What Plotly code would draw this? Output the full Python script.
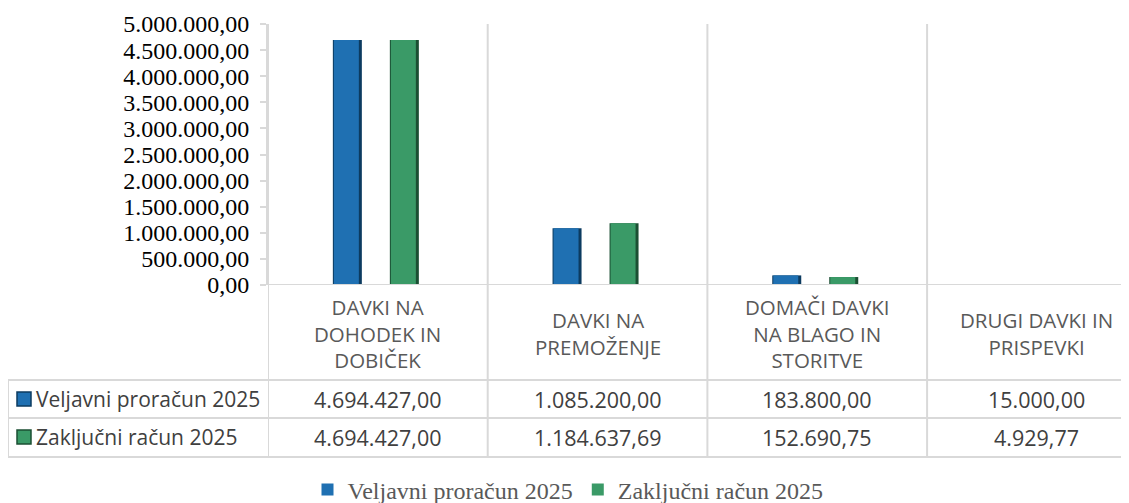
import plotly.graph_objects as go

categories = ["DAVKI NA DOHODEK IN DOBIČEK", "DAVKI NA PREMOŽENJE",
              "DOMAČI DAVKI NA BLAGO IN STORITVE", "DRUGI DAVKI IN PRISPEVKI"]
header_labels = ["DAVKI NA<br>DOHODEK IN<br>DOBIČEK", "DAVKI NA<br>PREMOŽENJE",
                 "DOMAČI DAVKI<br>NA BLAGO IN<br>STORITVE", "DRUGI DAVKI IN<br>PRISPEVKI"]
series_names = ["Veljavni proračun 2025", "Zaključni račun 2025"]
veljavni = [4694427.00, 1085200.00, 183800.00, 15000.00]
zakljucni = [4694427.00, 1184637.69, 152690.75, 4929.77]

blue = "#1f70b2"
blue_dark = "#0c3b60"
green = "#3a9a67"
green_dark = "#1b4f33"
grid = "#d9d9d9"

# the page body has an 8px margin, so work in page pixels and shift
OFF = 8
W, H = 1129 - OFF, 503 - OFF
L, T, B = 268, 24, 285  # plot area in page pixels
PLOT_W, PLOT_H = W - (L - OFF), B - T
CAT = 219.7


def px_x(x):
    return (x - L) / PLOT_W


def px_y(y):
    return (B - y) / PLOT_H


def fmt(v):
    s = f"{v:,.2f}"
    return s.replace(",", "X").replace(".", ",").replace("X", ".")


idx = list(range(len(categories)))
bw = 29 / CAT
edge = 4 / CAT

fig = go.Figure()
for name, vals, col, dark, off in [
    (series_names[0], veljavni, blue, blue_dark, -45 / CAT),
    (series_names[1], zakljucni, green, green_dark, 12 / CAT),
]:
    fig.add_trace(go.Bar(name=name, x=idx, y=vals, offset=off, width=bw, showlegend=False,
                         marker=dict(color=dark, line=dict(width=0))))
    fig.add_trace(go.Bar(name=name, x=idx, y=vals, offset=off + 1 / CAT, width=bw - edge,
                         marker=dict(color=col, line=dict(width=0)), hoverinfo="skip"))

shapes = []
# vertical lines (category boundaries), through plot and table
for b in [-0.5, 0.5, 1.5, 2.5]:
    shapes.append(dict(type="line", xref="x", yref="paper", x0=b, x1=b,
                       y0=1, y1=px_y(457), line=dict(color=grid, width=2)))
# horizontal table lines
for yy in [380, 418, 457]:
    shapes.append(dict(type="line", xref="paper", yref="paper", x0=px_x(8), x1=1,
                       y0=px_y(yy), y1=px_y(yy), line=dict(color=grid, width=2)))
shapes.append(dict(type="line", xref="paper", yref="paper", x0=px_x(8), x1=px_x(8),
                   y0=px_y(380), y1=px_y(457), line=dict(color=grid, width=2)))
# x axis line at zero
shapes.append(dict(type="line", xref="paper", yref="y", x0=0, x1=1, y0=0, y1=0,
                   line=dict(color=grid, width=2)))

annotations = []
for i, lab in enumerate(header_labels):
    annotations.append(dict(x=i, y=px_y(333), xref="x", yref="paper", text=lab,
                            yanchor="middle", showarrow=False,
                            font=dict(family="Open Sans", size=20.5, color="#595959")))
for row_y, vals, col, dark, name in [(399, veljavni, blue, blue_dark, series_names[0]),
                                     (437, zakljucni, green, green_dark, series_names[1])]:
    for i, v in enumerate(vals):
        annotations.append(dict(x=i, y=px_y(row_y), xref="x", yref="paper", text=fmt(v),
                                yanchor="middle", showarrow=False,
                                font=dict(family="Open Sans", size=21.5, color="#404040")))
    annotations.append(dict(x=px_x(34), y=px_y(row_y), xref="paper", yref="paper", text=name,
                            xanchor="left", yanchor="middle", showarrow=False,
                            font=dict(family="Open Sans", size=21, color="#404040")))
    shapes.append(dict(type="rect", xref="paper", yref="paper", x0=px_x(17), x1=px_x(31),
                       y0=px_y(row_y + 7), y1=px_y(row_y - 7), fillcolor=col,
                       line=dict(color=dark, width=1.5)))

fig.update_layout(
    width=W, height=H,
    margin=dict(l=L - OFF, r=0, t=T - OFF, b=OFF + H - B, autoexpand=False),
    paper_bgcolor="white", plot_bgcolor="white",
    barmode="overlay",
    separators=",.",
    showlegend=True,
    legend=dict(orientation="h", xref="container", yref="container",
                x=(568 - OFF) / W, xanchor="center", y=1 - (490 - OFF) / H, yanchor="middle",
                font=dict(family="Liberation Serif", size=24, color="#595959"),
                itemwidth=30, traceorder="normal"),
    xaxis=dict(range=[-0.5, -0.5 + PLOT_W / CAT], showticklabels=False, showgrid=False,
               zeroline=False, showline=False, ticks="", automargin=False),
    yaxis=dict(range=[0, 5000000], dtick=500000, tickformat=",.2f", showgrid=False,
               zeroline=False, showline=True, linecolor=grid, linewidth=2,
               ticks="outside", ticklen=6, tickcolor=grid, tickwidth=2, automargin=False,
               ticklabelstandoff=6,
               tickfont=dict(family="Liberation Serif", size=24, color="black")),
    shapes=shapes,
    annotations=annotations,
)

fig.write_html("out.html")
